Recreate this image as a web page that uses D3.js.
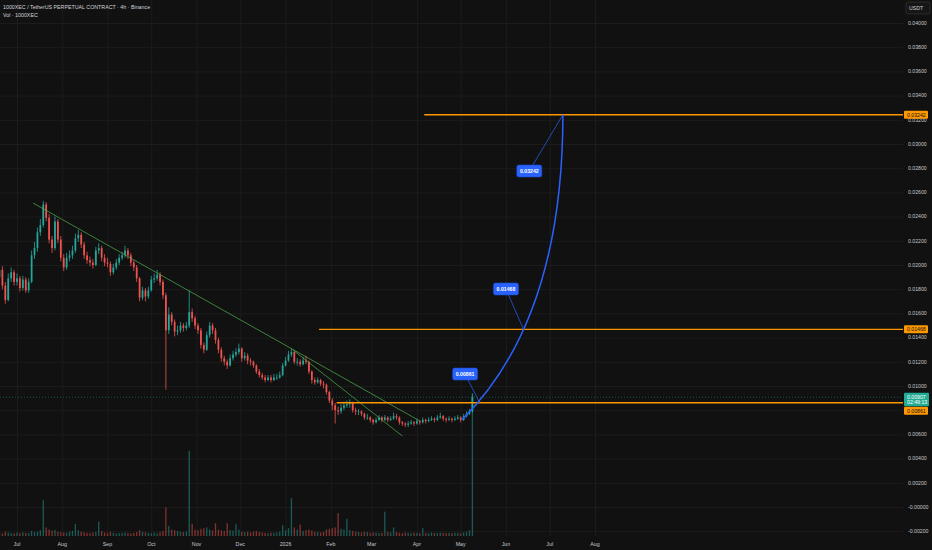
<!DOCTYPE html>
<html>
<head>
<meta charset="utf-8">
<script src="https://cdn.jsdelivr.net/npm/d3@7"></script>
<style>
html, body { margin: 0; padding: 0; background: #111111; overflow: hidden; }
text { font-family: "Liberation Sans", Arial, sans-serif; }
</style>
</head>
<body>
<div id="chart"></div>
<script>
// chart size
var w = 932;
var h = 550;
var paneRight = 903;

// 2-day candles, starting 2025-06-18
var candleStart = "2025-06-18";
var firstOpen = 0.0190;
var closes = [
  0.0196,0.0183,0.0171,0.0189,0.0194,0.0186,0.0189,0.0181,0.0188,0.0179,
  0.0186,0.0208,0.0214,0.0227,0.0233,0.0250,0.0239,0.0221,0.0214,0.0236,
  0.0221,0.0206,0.0198,0.0206,0.0208,0.0212,0.0222,0.0225,0.0217,0.0208,
  0.0204,0.0202,0.0200,0.0212,0.0214,0.0206,0.0202,0.0201,0.0194,0.0198,
  0.0202,0.0206,0.0208,0.0212,0.0208,0.0202,0.0198,0.0189,0.0173,0.0179,
  0.0174,0.0179,0.0188,0.0189,0.0192,0.0186,0.0175,0.0146,0.0159,0.0153,
  0.0145,0.0146,0.0150,0.0148,0.0150,0.0161,0.0156,0.0150,0.0146,0.0134,
  0.0130,0.0142,0.0150,0.0146,0.0138,0.0130,0.0123,0.0120,0.0117,0.0123,
  0.0126,0.0128,0.0131,0.0123,0.0125,0.0121,0.0120,0.0117,0.0112,0.0109,
  0.0107,0.0105,0.0107,0.0105,0.0107,0.0107,0.0109,0.0117,0.0121,0.0126,
  0.0128,0.0120,0.0120,0.0118,0.0121,0.0120,0.0112,0.0105,0.0103,0.0105,
  0.0102,0.0101,0.0095,0.0088,0.0084,0.0080,0.0079,0.0082,0.0084,0.0085,
  0.0086,0.0080,0.0079,0.0079,0.0077,0.0074,0.0074,0.0072,0.0070,0.0072,
  0.0074,0.0072,0.0074,0.0072,0.0073,0.0075,0.0074,0.0070,0.0069,0.0068,
  0.0069,0.0070,0.0069,0.0071,0.0070,0.0072,0.0071,0.0072,0.0073,0.0072,
  0.0074,0.0075,0.0073,0.0072,0.0073,0.0072,0.0073,0.0074,0.0072,0.0075,
  0.0077,0.0079,0.00907
];
var highs = [
  0.0200,0.0199,0.0186,0.0193,0.0198,0.0196,0.0193,0.0191,0.0191,0.0190,
  0.0189,0.0212,0.0219,0.0231,0.0238,0.0253,0.0252,0.0242,0.0224,0.0240,
  0.0238,0.0224,0.0209,0.0210,0.0212,0.0216,0.0226,0.0229,0.0227,0.0219,
  0.0211,0.0207,0.0205,0.0215,0.0218,0.0216,0.0209,0.0206,0.0203,0.0201,
  0.0205,0.0209,0.0211,0.0216,0.0214,0.0210,0.0204,0.0200,0.0190,0.0182,
  0.0181,0.0182,0.0191,0.0193,0.0196,0.0194,0.0188,0.0177,0.0165,0.0161,
  0.0155,0.0150,0.0153,0.0152,0.0153,0.0179,0.0164,0.0158,0.0152,0.0148,
  0.0136,0.0145,0.0153,0.0152,0.0148,0.0140,0.0132,0.0125,0.0122,0.0126,
  0.0129,0.0131,0.0135,0.0132,0.0128,0.0127,0.0123,0.0121,0.0118,0.0114,
  0.0111,0.0109,0.0109,0.0109,0.0110,0.0110,0.0112,0.0119,0.0124,0.0129,
  0.0131,0.0129,0.0123,0.0122,0.0124,0.0125,0.0121,0.0113,0.0107,0.0107,
  0.0106,0.0104,0.0102,0.0096,0.0090,0.0086,0.0083,0.0085,0.0087,0.0088,
  0.0089,0.0087,0.0082,0.0081,0.0080,0.0078,0.0077,0.0075,0.0073,0.0074,
  0.0076,0.0075,0.0076,0.0075,0.0075,0.0078,0.0077,0.0075,0.0071,0.0070,
  0.0071,0.0072,0.0071,0.0073,0.0072,0.0074,0.0073,0.0074,0.0075,0.0074,
  0.0076,0.0078,0.0076,0.0074,0.0075,0.0074,0.0075,0.0076,0.0075,0.0077,
  0.0079,0.0081,0.0093
];
var lows = [
  0.0187,0.0180,0.0168,0.0170,0.0186,0.0183,0.0183,0.0178,0.0179,0.0177,
  0.0177,0.0185,0.0205,0.0211,0.0224,0.0231,0.0236,0.0218,0.0210,0.0212,
  0.0218,0.0203,0.0195,0.0196,0.0203,0.0205,0.0210,0.0219,0.0214,0.0205,
  0.0201,0.0199,0.0197,0.0199,0.0209,0.0203,0.0199,0.0198,0.0191,0.0192,
  0.0196,0.0200,0.0204,0.0206,0.0205,0.0199,0.0195,0.0186,0.0170,0.0171,
  0.0170,0.0172,0.0178,0.0185,0.0187,0.0183,0.0172,0.0097,0.0143,0.0150,
  0.0141,0.0142,0.0144,0.0145,0.0146,0.0148,0.0153,0.0147,0.0143,0.0131,
  0.0127,0.0129,0.0140,0.0143,0.0135,0.0127,0.0120,0.0117,0.0114,0.0116,
  0.0121,0.0124,0.0126,0.0120,0.0121,0.0118,0.0117,0.0115,0.0110,0.0107,
  0.0105,0.0103,0.0104,0.0103,0.0104,0.0105,0.0106,0.0108,0.0116,0.0120,
  0.0124,0.0118,0.0117,0.0116,0.0117,0.0118,0.0110,0.0102,0.0101,0.0102,
  0.0100,0.0098,0.0093,0.0086,0.0080,0.0069,0.0076,0.0077,0.0080,0.0082,
  0.0082,0.0078,0.0076,0.0076,0.0075,0.0072,0.0072,0.0070,0.0068,0.0069,
  0.0071,0.0070,0.0071,0.0070,0.0071,0.0072,0.0072,0.0068,0.0067,0.0066,
  0.0066,0.0068,0.0067,0.0068,0.0068,0.0069,0.0069,0.0070,0.0071,0.0070,
  0.0071,0.0073,0.0071,0.0070,0.0071,0.0070,0.0071,0.0072,0.0070,0.0071,
  0.0074,0.0076,0.0078
];
var volumes = [
  22,18,30,25,20,18,24,20,26,22,
  20,35,28,30,40,250,60,45,38,42,
  30,28,25,22,30,35,85,40,30,25,
  22,20,25,28,100,35,24,20,30,22,
  18,20,22,25,20,18,22,28,40,30,
  25,22,20,24,20,28,35,200,70,45,
  40,35,30,28,32,595,85,45,40,50,
  55,60,45,38,90,45,40,35,90,40,
  38,85,45,30,28,30,25,30,35,28,
  25,22,20,24,22,25,30,75,40,55,
  265,60,45,80,35,40,45,38,30,28,
  25,30,45,50,55,60,160,50,45,120,
  40,35,30,28,25,30,28,22,25,24,
  20,22,170,30,25,60,28,22,20,25,
  22,20,24,22,20,55,22,20,25,22,
  20,24,22,20,22,20,24,22,20,25,
  30,40,1000
];

// axis ticks
var priceTicks = [-0.002,0,0.002,0.004,0.006,0.008,0.010,0.012,0.014,0.016,0.018,0.020,
                  0.022,0.024,0.026,0.028,0.030,0.032,0.034,0.036,0.038,0.040];
var priceTickLabels = ["-0.00200","-0.00000","0.00200","0.00400","0.00600","0.00800","0.01000",
                       "0.01200","0.01400","0.01600","0.01800","0.02000","0.02200","0.02400",
                       "0.02600","0.02800","0.03000","0.03200","0.03400","0.03600","0.03800","0.04000"];
var monthTicks = ["2025-07-01","2025-08-01","2025-09-01","2025-10-01","2025-11-01","2025-12-01",
                  "2026-01-01","2026-02-01","2026-03-01","2026-04-01","2026-05-01","2026-06-01",
                  "2026-07-01","2026-08-01"];
var monthLabels = ["Jul","Aug","Sep","Oct","Nov","Dec","2026","Feb","Mar","Apr","May","Jun","Jul","Aug"];

// drawings
var trendDates = [["2025-07-12","2026-04-03"], ["2026-01-06","2026-03-22"]];
var trendPrices = [[0.02512,0.00711], [0.01298,0.00587]];
var levelPrices = [0.03242, 0.01468, 0.00861];
var levelStarts = ["2026-04-06", "2026-01-24", "2026-02-05"];
// projection curve: start, control point, end
var curveDates = ["2026-05-02","2026-07-10","2026-07-10"];
var curvePrices = [0.00722,0.01554,0.03242];
var noteDates = ["2026-05-04","2026-06-01","2026-06-17"];
var notePrices = [0.01099,0.01802,0.02777];
var noteTargetDates = ["2026-05-14","2026-06-13","2026-07-10"];
var noteTexts = ["0.00861","0.01468","0.03242"];
var lastPrice = 0.00907;
var countdown = "02:49:13";

var parse = d3.utcParse("%Y-%m-%d");

var xScale = d3.scaleUtc()
    .domain([parse("2025-07-01"), parse("2026-08-01")])
    .range([17, 595]);
var yScale = d3.scaleLinear()
    .domain([0, 0.04])
    .range([507, 23]);
var vScale = d3.scaleLinear()
    .domain([0, 1000])
    .range([536, 393]);

// build candles
var candles = closes.map(function(c, i) {
    var d0 = d3.utcDay.offset(parse(candleStart), i * 2);
    return {
        date: d3.utcHour.offset(d0, 24),
        open: i == 0 ? firstOpen : closes[i - 1],
        close: c,
        high: highs[i],
        low: lows[i],
        vol: volumes[i]
    };
});

function candleColor(d) { return d.close >= d.open ? "#26a69a" : "#ef5350"; }

var svg = d3.select("#chart")
    .append("svg")
    .attr("width", w)
    .attr("height", h)
    .style("display", "block");

svg.append("rect").attr("width", w).attr("height", h).attr("fill", "#111111");

var pane = svg.append("g");

// grid
pane.selectAll("line.hgrid")
    .data(priceTicks)
    .enter()
    .append("line")
    .attr("x1", 0).attr("x2", paneRight)
    .attr("y1", function(d) { return yScale(d) + 0.5; })
    .attr("y2", function(d) { return yScale(d) + 0.5; })
    .attr("stroke", "#1c1c1c");
pane.selectAll("line.vgrid")
    .data(monthTicks)
    .enter()
    .append("line")
    .attr("x1", function(d) { return xScale(parse(d)) + 0.5; })
    .attr("x2", function(d) { return xScale(parse(d)) + 0.5; })
    .attr("y1", 0).attr("y2", 536)
    .attr("stroke", "#1c1c1c");

// current price line
pane.append("line")
    .attr("x1", 0).attr("x2", paneRight)
    .attr("y1", yScale(lastPrice)).attr("y2", yScale(lastPrice))
    .attr("stroke", "#26a69a").attr("stroke-opacity", 0.45)
    .attr("stroke-dasharray", "1,2");

var step = xScale(parse("2025-07-03")) - xScale(parse("2025-07-01"));
var bw = step * 0.6;
var vbw = step * 0.45;

// volume
pane.selectAll("rect.vol")
    .data(candles)
    .enter()
    .append("rect")
    .attr("x", function(d) { return xScale(d.date) - vbw / 2; })
    .attr("width", vbw)
    .attr("y", function(d) { return vScale(d.vol); })
    .attr("height", function(d) { return 536 - vScale(d.vol); })
    .attr("fill", candleColor)
    .attr("fill-opacity", 0.5);

// candles
var cg = pane.selectAll("g.candle")
    .data(candles)
    .enter()
    .append("g");
cg.append("line")
    .attr("x1", function(d) { return xScale(d.date); })
    .attr("x2", function(d) { return xScale(d.date); })
    .attr("y1", function(d) { return yScale(d.high); })
    .attr("y2", function(d) { return yScale(d.low); })
    .attr("stroke", candleColor)
    .attr("stroke-width", 0.8);
cg.append("rect")
    .attr("x", function(d) { return xScale(d.date) - bw / 2; })
    .attr("width", bw)
    .attr("y", function(d) { return yScale(Math.max(d.open, d.close)); })
    .attr("height", function(d) { return Math.max(0.8, Math.abs(yScale(d.open) - yScale(d.close))); })
    .attr("fill", candleColor);

// trendlines
trendDates.forEach(function(td, k) {
    pane.append("line")
        .attr("x1", xScale(parse(td[0]))).attr("y1", yScale(trendPrices[k][0]))
        .attr("x2", xScale(parse(td[1]))).attr("y2", yScale(trendPrices[k][1]))
        .attr("stroke", "#4caf50").attr("stroke-opacity", 0.8)
        .attr("stroke-width", 0.9);
});

// horizontal levels
levelPrices.forEach(function(p, k) {
    pane.append("line")
        .attr("x1", xScale(parse(levelStarts[k]))).attr("x2", paneRight)
        .attr("y1", yScale(p)).attr("y2", yScale(p))
        .attr("stroke", "#ff9800").attr("stroke-width", 1.4);
});

// projection curve (quadratic)
var cp = curveDates.map(function(d, i) { return [xScale(parse(d)), yScale(curvePrices[i])]; });
var cpath = d3.path();
cpath.moveTo(cp[0][0], cp[0][1]);
cpath.quadraticCurveTo(cp[1][0], cp[1][1], cp[2][0], cp[2][1]);
pane.append("path")
    .attr("d", cpath.toString())
    .attr("fill", "none")
    .attr("stroke", "#2962ff")
    .attr("stroke-width", 1.5);

// callouts
noteDates.forEach(function(d, k) {
    var cx = xScale(parse(d)), cy = yScale(notePrices[k]);
    var tx = xScale(parse(noteTargetDates[k])), ty = yScale(levelPrices[2 - k]);
    pane.append("line")
        .attr("x1", cx).attr("y1", cy).attr("x2", tx).attr("y2", ty)
        .attr("stroke", "#2962ff").attr("stroke-opacity", 0.7).attr("stroke-width", 1);
    pane.append("rect")
        .attr("x", cx - 12.5).attr("y", cy - 6)
        .attr("width", 25).attr("height", 12)
        .attr("rx", 2)
        .attr("fill", "#2962ff")
        .attr("stroke", "#1e4bc8").attr("stroke-width", 0.6);
    pane.append("text")
        .attr("x", cx).attr("y", cy + 2)
        .attr("text-anchor", "middle")
        .attr("font-size", 5.2).attr("font-weight", "bold")
        .attr("fill", "#ffffff")
        .text(noteTexts[k]);
});

// header text
svg.append("text")
    .attr("x", 3).attr("y", 9)
    .attr("font-size", 5.3).attr("fill", "#d1d4dc")
    .text("1000XEC / TetherUS PERPETUAL CONTRACT \u00b7 4h \u00b7 Binance");
svg.append("text")
    .attr("x", 3).attr("y", 17)
    .attr("font-size", 5.3).attr("fill", "#d1d4dc")
    .text("Vol \u00b7 1000XEC");

// price axis
svg.selectAll("text.ptick")
    .data(priceTicks)
    .enter()
    .append("text")
    .attr("x", 908)
    .attr("y", function(d) { return yScale(d) + 1.8; })
    .attr("font-size", 5.2)
    .attr("fill", "#c4c7cf")
    .text(function(d, i) { return priceTickLabels[i]; });

// USDT box
svg.append("rect")
    .attr("x", 906).attr("y", 2).attr("width", 24).attr("height", 12)
    .attr("rx", 2).attr("fill", "#161616")
    .attr("stroke", "#3a3a3a").attr("stroke-width", 0.6);
svg.append("text")
    .attr("x", 909).attr("y", 10)
    .attr("font-size", 5.2).attr("fill", "#d1d4dc")
    .text("USDT");

// level price tags
var tagY = [yScale(levelPrices[0]), yScale(levelPrices[1]), yScale(levelPrices[2]) + 8];
levelPrices.forEach(function(p, k) {
    svg.append("rect")
        .attr("x", 904).attr("y", tagY[k] - 4)
        .attr("width", 24).attr("height", 8)
        .attr("rx", 1).attr("fill", "#ff9800");
    svg.append("text")
        .attr("x", 907).attr("y", tagY[k] + 1.8)
        .attr("font-size", 5.2).attr("fill", "#111111")
        .text(p.toFixed(5));
});

// last price tag
var ly = yScale(lastPrice);
svg.append("rect")
    .attr("x", 904).attr("y", ly - 4.5)
    .attr("width", 25).attr("height", 13.5)
    .attr("rx", 1).attr("fill", "#22ab94");
svg.append("text")
    .attr("x", 907).attr("y", ly + 1.6)
    .attr("font-size", 5.2).attr("fill", "#ffffff")
    .text(lastPrice.toFixed(5));
svg.append("text")
    .attr("x", 907).attr("y", ly + 7.2)
    .attr("font-size", 5.2).attr("fill", "#ffffff")
    .text(countdown);

// time axis
svg.selectAll("text.mtick")
    .data(monthTicks)
    .enter()
    .append("text")
    .attr("x", function(d) { return xScale(parse(d)); })
    .attr("y", 546)
    .attr("text-anchor", "middle")
    .attr("font-size", 5.3)
    .attr("fill", "#c4c7cf")
    .text(function(d, i) { return monthLabels[i]; });
</script>
</body>
</html>
